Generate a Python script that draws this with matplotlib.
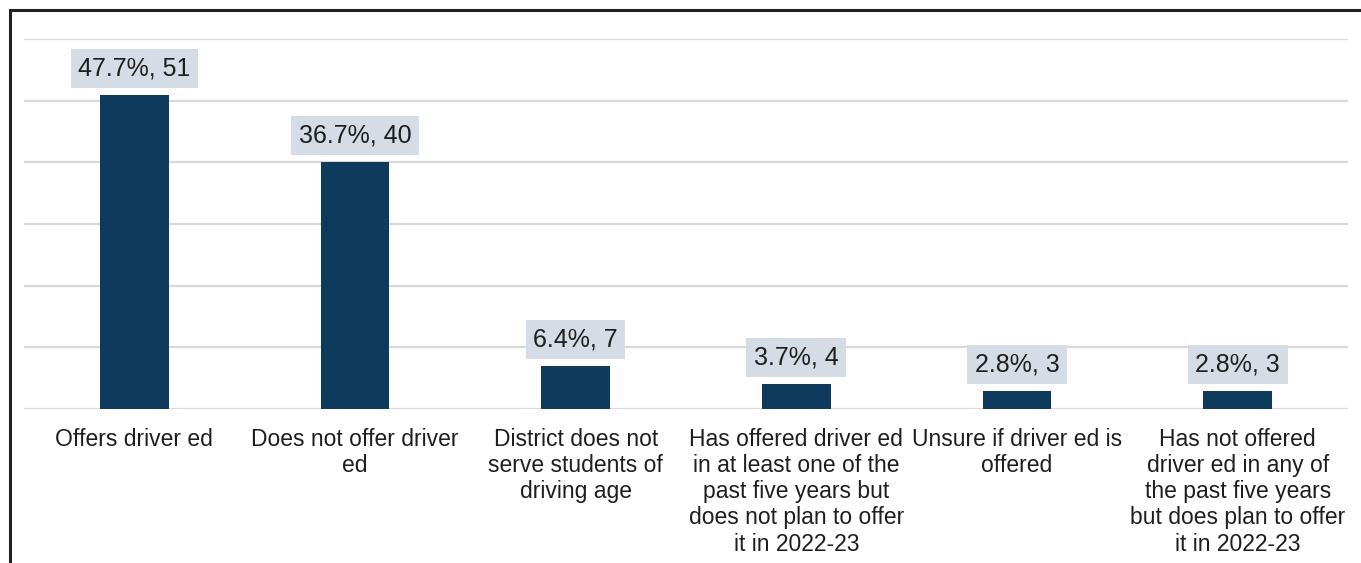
import matplotlib
matplotlib.use("Agg")
import matplotlib.pyplot as plt
from matplotlib.lines import Line2D

plt.rcParams['font.family'] = ['Liberation Sans', 'DejaVu Sans']

categories = [
    "Offers driver ed",
    "Does not offer driver\ned",
    "District does not\nserve students of\ndriving age",
    "Has offered driver ed\nin at least one of the\npast five years but\ndoes not plan to offer\nit in 2022-23",
    "Unsure if driver ed is\noffered",
    "Has not offered\ndriver ed in any of\nthe past five years\nbut does plan to offer\nit in 2022-23",
]
percents = [47.7, 36.7, 6.4, 3.7, 2.8, 2.8]
counts = [51, 40, 7, 4, 3, 3]

bar_color = "#0E3A5C"
box_color = "#D6DCE5"
grid_color = "#D9D9D9"
text_color = "#1E1E1E"

fig = plt.figure(figsize=(13.61, 5.63), dpi=100)
ax = fig.add_axes([24 / 1361, 1 - 409 / 563, (1348 - 24) / 1361, (409 - 39) / 563])

x = list(range(len(categories)))
ax.bar(x, counts, width=0.31, color=bar_color, zorder=3)
ax.set_xlim(-0.5, len(categories) - 0.5)
ax.set_ylim(0, 60)
ax.set_yticks(range(0, 61, 10))
ax.yaxis.grid(True, color=grid_color, linewidth=1.6, zorder=0)
ax.tick_params(axis='y', left=False, labelleft=False)
ax.tick_params(axis='x', bottom=False, pad=10)
ax.set_xticks(x)
ax.set_xticklabels(categories, fontsize=16.5, color=text_color, linespacing=1.18, va='top')
for s in ax.spines.values():
    s.set_visible(False)

for xi, c, p in zip(x, counts, percents):
    ax.annotate(f"{p}%, {c}", (xi, c), xytext=(0, 19), textcoords="offset points",
                ha='center', va='center', fontsize=18, color=text_color,
                bbox=dict(boxstyle="square,pad=0.3", fc=box_color, ec="none"),
                zorder=4)

# outer frame (left and top edges)
fig.add_artist(Line2D([9.5 / 1361, 9.5 / 1361], [0, 1 - 9.5 / 563], color="#222222",
                      linewidth=2.2, transform=fig.transFigure))
fig.add_artist(Line2D([9.5 / 1361, 1], [1 - 9.5 / 563, 1 - 9.5 / 563], color="#222222",
                      linewidth=2.2, transform=fig.transFigure))

fig.savefig("out.png", dpi=100)
